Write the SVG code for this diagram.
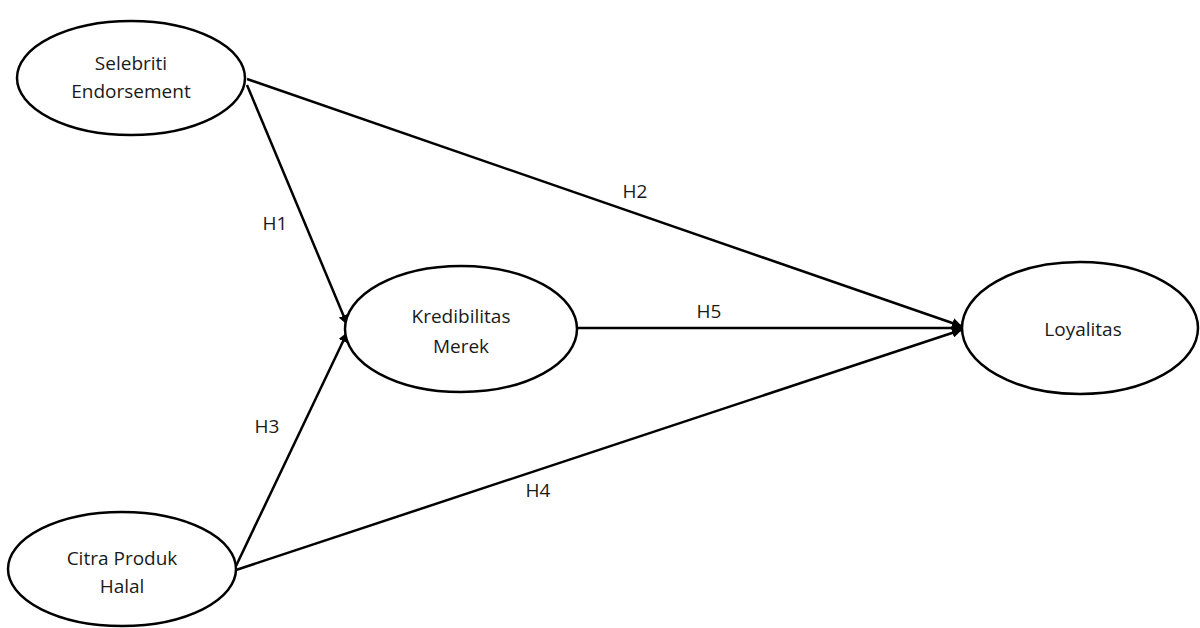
<svg xmlns="http://www.w3.org/2000/svg" width="1200" height="628" viewBox="0 0 1200 628">
<style>
.n{fill:#fff;stroke:#000;stroke-width:2.5}
.t{font-family:"Open Sans","Liberation Sans",sans-serif;font-size:19px;fill:#1a1a1a;text-anchor:middle}
.c{stroke:#000;stroke-width:2.5;fill:none;marker-end:url(#a)}
</style>
<defs>
<marker id="a" viewBox="0 0 10 10" refX="9" refY="5" markerWidth="4" markerHeight="4" orient="auto" markerUnits="strokeWidth">
<path d="M0,0 L10,5 L0,10 Z" fill="#000"/>
</marker>
</defs>
<rect width="1200" height="628" fill="#fff"/>
<g id="connectors">
<line class="c" x1="247" y1="85" x2="347" y2="324"/>
<line class="c" x1="247" y1="79" x2="961" y2="326"/>
<line class="c" x1="577" y1="328" x2="961" y2="328"/>
<line class="c" x1="236" y1="566" x2="347" y2="333"/>
<line class="c" x1="236" y1="570" x2="961" y2="330"/>
<text class="t" x="275" y="230">H1</text>
<text class="t" x="635" y="198">H2</text>
<text class="t" x="709" y="318">H5</text>
<text class="t" x="267" y="433">H3</text>
<text class="t" x="538" y="497">H4</text>
</g>
<g id="selebriti">
<ellipse class="n" cx="131" cy="78" rx="114" ry="57"/>
<text class="t" x="131" y="70">Selebriti</text>
<text class="t" x="131" y="98">Endorsement</text>
</g>
<g id="kredibilitas">
<ellipse class="n" cx="461" cy="329" rx="116" ry="63"/>
<text class="t" x="461" y="323">Kredibilitas</text>
<text class="t" x="461" y="353">Merek</text>
</g>
<g id="loyalitas">
<ellipse class="n" cx="1080" cy="328" rx="118" ry="66"/>
<text class="t" x="1083" y="336">Loyalitas</text>
</g>
<g id="citra">
<ellipse class="n" cx="122" cy="569" rx="114" ry="57"/>
<text class="t" x="122" y="565">Citra Produk</text>
<text class="t" x="122" y="593">Halal</text>
</g>
</svg>
